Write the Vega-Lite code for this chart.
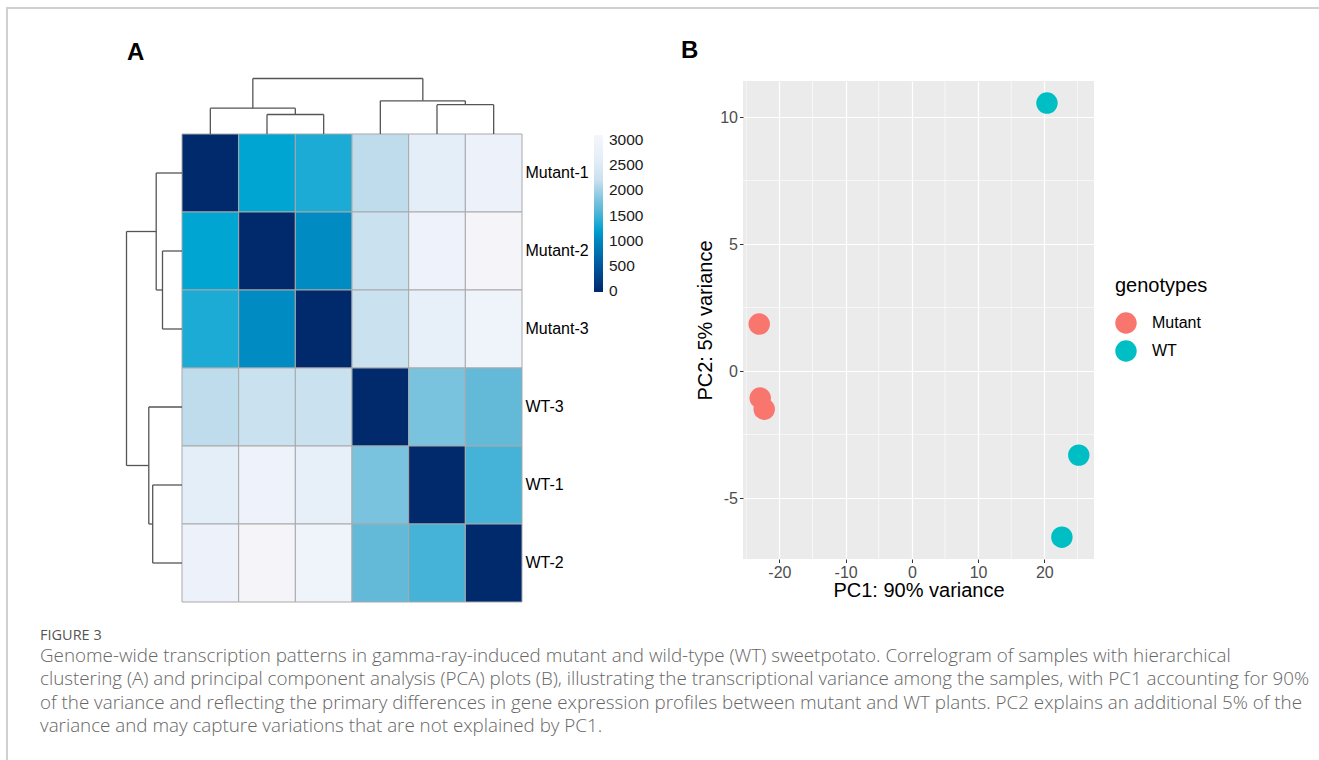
{
  "$schema": "https://vega.github.io/schema/vega-lite/v6.json",
  "padding": {"left": 6, "top": 7, "right": 0, "bottom": 0},
  "background": "white",
  "config": {"font": "Liberation Sans", "view": {"stroke": null}},
  "title": {
    "text": "FIGURE 3",
    "subtitle": [
      "Genome-wide transcription patterns in gamma-ray-induced mutant and wild-type (WT) sweetpotato. Correlogram of samples with hierarchical",
      "clustering (A) and principal component analysis (PCA) plots (B), illustrating the transcriptional variance among the samples, with PC1 accounting for 90%",
      "of the variance and reflecting the primary differences in gene expression profiles between mutant and WT plants. PC2 explains an additional 5% of the",
      "variance and may capture variations that are not explained by PC1."
    ],
    "orient": "top",
    "anchor": "start",
    "frame": "group",
    "baseline": "top",
    "offset": 0,
    "dx": 34,
    "dy": 730,
    "font": "Open Sans",
    "fontSize": 14.5,
    "fontWeight": "normal",
    "color": "#555555",
    "subtitleFont": "Open Sans",
    "subtitleFontSize": 18.8,
    "subtitleFontWeight": 300,
    "subtitleColor": "#666666",
    "subtitleLineHeight": 23.5,
    "subtitlePadding": 3
  },
  "datasets": {
    "cells": [
      {"row": "Mutant-1", "col": "Mutant-1", "dist": 0},
      {"row": "Mutant-1", "col": "Mutant-2", "dist": 1250},
      {"row": "Mutant-1", "col": "Mutant-3", "dist": 1350},
      {"row": "Mutant-1", "col": "WT-3", "dist": 2150},
      {"row": "Mutant-1", "col": "WT-1", "dist": 2600},
      {"row": "Mutant-1", "col": "WT-2", "dist": 2850},
      {"row": "Mutant-2", "col": "Mutant-1", "dist": 1250},
      {"row": "Mutant-2", "col": "Mutant-2", "dist": 0},
      {"row": "Mutant-2", "col": "Mutant-3", "dist": 1050},
      {"row": "Mutant-2", "col": "WT-3", "dist": 2230},
      {"row": "Mutant-2", "col": "WT-1", "dist": 2870},
      {"row": "Mutant-2", "col": "WT-2", "dist": 3050},
      {"row": "Mutant-3", "col": "Mutant-1", "dist": 1350},
      {"row": "Mutant-3", "col": "Mutant-2", "dist": 1050},
      {"row": "Mutant-3", "col": "Mutant-3", "dist": 0},
      {"row": "Mutant-3", "col": "WT-3", "dist": 2230},
      {"row": "Mutant-3", "col": "WT-1", "dist": 2700},
      {"row": "Mutant-3", "col": "WT-2", "dist": 2900},
      {"row": "WT-3", "col": "Mutant-1", "dist": 2150},
      {"row": "WT-3", "col": "Mutant-2", "dist": 2230},
      {"row": "WT-3", "col": "Mutant-3", "dist": 2230},
      {"row": "WT-3", "col": "WT-3", "dist": 0},
      {"row": "WT-3", "col": "WT-1", "dist": 1800},
      {"row": "WT-3", "col": "WT-2", "dist": 1650},
      {"row": "WT-1", "col": "Mutant-1", "dist": 2600},
      {"row": "WT-1", "col": "Mutant-2", "dist": 2870},
      {"row": "WT-1", "col": "Mutant-3", "dist": 2700},
      {"row": "WT-1", "col": "WT-3", "dist": 1800},
      {"row": "WT-1", "col": "WT-1", "dist": 0},
      {"row": "WT-1", "col": "WT-2", "dist": 1500},
      {"row": "WT-2", "col": "Mutant-1", "dist": 2850},
      {"row": "WT-2", "col": "Mutant-2", "dist": 3050},
      {"row": "WT-2", "col": "Mutant-3", "dist": 2900},
      {"row": "WT-2", "col": "WT-3", "dist": 1650},
      {"row": "WT-2", "col": "WT-1", "dist": 1500},
      {"row": "WT-2", "col": "WT-2", "dist": 0}
    ],
    "dendro": [
      {"p1": 2, "p2": 2, "h1": 0, "h2": 19.5},
      {"p1": 3, "p2": 3, "h1": 0, "h2": 19.5},
      {"p1": 2, "p2": 3, "h1": 19.5, "h2": 19.5},
      {"p1": 1, "p2": 1, "h1": 0, "h2": 25.8},
      {"p1": 2.5, "p2": 2.5, "h1": 19.5, "h2": 25.8},
      {"p1": 1, "p2": 2.5, "h1": 25.8, "h2": 25.8},
      {"p1": 5, "p2": 5, "h1": 0, "h2": 29.3},
      {"p1": 6, "p2": 6, "h1": 0, "h2": 29.3},
      {"p1": 5, "p2": 6, "h1": 29.3, "h2": 29.3},
      {"p1": 4, "p2": 4, "h1": 0, "h2": 33.2},
      {"p1": 5.5, "p2": 5.5, "h1": 29.3, "h2": 33.2},
      {"p1": 4, "p2": 5.5, "h1": 33.2, "h2": 33.2},
      {"p1": 1.75, "p2": 1.75, "h1": 25.8, "h2": 55.5},
      {"p1": 4.75, "p2": 4.75, "h1": 33.2, "h2": 55.5},
      {"p1": 1.75, "p2": 4.75, "h1": 55.5, "h2": 55.5}
    ],
    "pca": [
      {"sample": "Mutant-1", "genotypes": "Mutant", "PC1": -23.05, "PC2": 1.85},
      {"sample": "Mutant-2", "genotypes": "Mutant", "PC1": -22.9, "PC2": -1.06},
      {"sample": "Mutant-3", "genotypes": "Mutant", "PC1": -22.3, "PC2": -1.5},
      {"sample": "WT-1", "genotypes": "WT", "PC1": 20.4, "PC2": 10.55},
      {"sample": "WT-2", "genotypes": "WT", "PC1": 25.2, "PC2": -3.31},
      {"sample": "WT-3", "genotypes": "WT", "PC1": 22.65, "PC2": -6.54}
    ],
    "minorX": [{"v": -25}, {"v": -15}, {"v": -5}, {"v": 5}, {"v": 15}, {"v": 25}],
    "minorY": [{"v": -2.5}, {"v": 2.5}, {"v": 7.5}]
  },
  "spacing": 0,
  "bounds": "flush",
  "vconcat": [
    {
      "width": 1313, "height": 2,
      "data": {"values": []},
      "mark": "point",
      "view": {"fill": "#d0d0d0", "stroke": null}
    },
    {
      "spacing": 102,
      "bounds": "flush",
      "hconcat": [
        {
          "width": 2, "height": 751,
          "data": {"values": []},
          "mark": "point",
          "view": {"fill": "#d0d0d0", "stroke": null}
        },
        {
          "spacing": 221,
          "bounds": "flush",
          "resolve": {"scale": {"color": "independent"}},
          "hconcat": [
            {
              "width": 412, "height": 593,
              "title": {"text": "A", "anchor": "start", "orient": "top", "frame": "group", "fontSize": 24, "fontWeight": "bold", "color": "#000000", "baseline": "alphabetic", "offset": 0, "dx": 17, "dy": 75},
              "resolve": {"scale": {"x": "independent", "y": "independent"}},
              "layer": [
                {
                  "data": {"name": "cells"},
                  "mark": {"type": "rect", "stroke": "#a9a9a9", "strokeWidth": 1},
                  "encoding": {
                    "x": {"field": "col", "type": "nominal", "sort": ["Mutant-1", "Mutant-2", "Mutant-3", "WT-3", "WT-1", "WT-2"], "scale": {"paddingInner": 0, "paddingOuter": 0.6353, "align": 1}, "axis": null},
                    "y": {"field": "row", "type": "nominal", "sort": ["Mutant-1", "Mutant-2", "Mutant-3", "WT-3", "WT-1", "WT-2"], "scale": {"paddingInner": 0, "paddingOuter": 0.8013, "align": 1}, "axis": {"orient": "right", "title": null, "ticks": false, "domain": false, "labelFontSize": 16, "labelColor": "#000000", "labelPadding": 3}},
                    "color": {
                      "field": "dist", "type": "quantitative",
                      "scale": {
                        "domain": [-15, 500, 1000, 1250, 1500, 1650, 1800, 2000, 2200, 2600, 2850, 3100],
                        "range": ["#00296b", "#00579e", "#0086bf", "#00a5d2", "#45b3d8", "#62b9d8", "#7ac3de", "#a2d0e7", "#c8e0ef", "#e3eef8", "#edf2fa", "#f6f5f9"],
                        "interpolate": "rgb"
                      },
                      "legend": {"orient": "none", "legendX": 484, "legendY": 126, "title": null, "direction": "vertical", "gradientLength": 157, "gradientThickness": 9, "gradientStrokeWidth": 0, "values": [0, 500, 1000, 1500, 2000, 2500, 3000], "format": "d", "labelFontSize": 15.5, "labelColor": "#1a1a1a", "labelOffset": 6, "labelOverlap": false, "padding": 0}
                    }
                  }
                },
                {
                  "data": {"name": "dendro"},
                  "mark": {"type": "rule", "color": "#555555", "strokeWidth": 1.3},
                  "encoding": {
                    "x": {"field": "p1", "type": "quantitative", "scale": {"domain": [-0.7706, 6.5], "nice": false, "zero": false}, "axis": null},
                    "x2": {"field": "p2"},
                    "y": {"field": "h1", "type": "quantitative", "scale": {"domain": [-468, 125], "nice": false, "zero": false}, "axis": null},
                    "y2": {"field": "h2"}
                  }
                },
                {
                  "data": {"name": "dendro"},
                  "mark": {"type": "rule", "color": "#555555", "strokeWidth": 1.3},
                  "encoding": {
                    "x": {"field": "h1", "type": "quantitative", "scale": {"domain": [-340, 72], "reverse": true, "nice": false, "zero": false}, "axis": null},
                    "x2": {"field": "h2"},
                    "y": {"field": "p1", "type": "quantitative", "scale": {"domain": [-1.1026, 6.5], "reverse": true, "nice": false, "zero": false}, "axis": null},
                    "y2": {"field": "p2"}
                  }
                }
              ]
            },
            {
              "spacing": 0,
              "bounds": "flush",
              "vconcat": [
                {
                  "width": 351, "height": 72,
                  "data": {"values": []},
                  "mark": "point"
                },
                {
                  "width": 351, "height": 478,
                  "view": {"fill": "#ebebeb", "stroke": null},
                  "title": {"text": "B", "anchor": "start", "orient": "top", "frame": "group", "fontSize": 24, "fontWeight": "bold", "color": "#000000", "baseline": "alphabetic", "offset": 0, "dy": 1, "dx": -62},
                  "layer": [
                    {
                      "data": {"name": "minorX"},
                      "mark": {"type": "rule", "color": "#ffffff", "strokeWidth": 0.6},
                      "encoding": {
                        "x": {"field": "v", "type": "quantitative", "scale": {"domain": [-25.5, 27.5], "nice": false, "zero": false},
                          "axis": {"values": [-20, -10, 0, 10, 20], "labelExpr": "'' + datum.value", "title": "PC1: 90% variance", "titleFontSize": 20, "titleFontWeight": "normal", "titleColor": "#000000", "labelFontSize": 16, "labelColor": "#4d4d4d", "tickColor": "#333333", "tickSize": 3.5, "labelPadding": 2, "domain": false, "grid": true, "gridColor": "#ffffff", "gridWidth": 1.2, "titlePadding": 0, "labelFlush": false}}
                      }
                    },
                    {
                      "data": {"name": "minorY"},
                      "mark": {"type": "rule", "color": "#ffffff", "strokeWidth": 0.6},
                      "encoding": {
                        "y": {"field": "v", "type": "quantitative", "scale": {"domain": [-7.4, 11.42], "nice": false, "zero": false},
                          "axis": {"values": [-5, 0, 5, 10], "labelExpr": "'' + datum.value", "title": "PC2: 5% variance", "titleFontSize": 20, "titleFontWeight": "normal", "titleColor": "#000000", "labelFontSize": 16, "labelColor": "#4d4d4d", "tickColor": "#333333", "tickSize": 3.5, "labelPadding": 2, "domain": false, "grid": true, "gridColor": "#ffffff", "gridWidth": 1.2, "titlePadding": 4, "labelFlush": false}}
                      }
                    },
                    {
                      "data": {"name": "pca"},
                      "mark": {"type": "circle", "size": 460, "opacity": 1},
                      "encoding": {
                        "x": {"field": "PC1", "type": "quantitative", "scale": {"domain": [-25.5, 27.5], "nice": false, "zero": false},
                          "axis": {"values": [-20, -10, 0, 10, 20], "labelExpr": "'' + datum.value", "title": "PC1: 90% variance", "titleFontSize": 20, "titleFontWeight": "normal", "titleColor": "#000000", "labelFontSize": 16, "labelColor": "#4d4d4d", "tickColor": "#333333", "tickSize": 3.5, "labelPadding": 2, "domain": false, "grid": true, "gridColor": "#ffffff", "gridWidth": 1.2, "titlePadding": 0, "labelFlush": false}},
                        "y": {"field": "PC2", "type": "quantitative", "scale": {"domain": [-7.4, 11.42], "nice": false, "zero": false},
                          "axis": {"values": [-5, 0, 5, 10], "labelExpr": "'' + datum.value", "title": "PC2: 5% variance", "titleFontSize": 20, "titleFontWeight": "normal", "titleColor": "#000000", "labelFontSize": 16, "labelColor": "#4d4d4d", "tickColor": "#333333", "tickSize": 3.5, "labelPadding": 2, "domain": false, "grid": true, "gridColor": "#ffffff", "gridWidth": 1.2, "titlePadding": 4, "labelFlush": false}},
                        "color": {"field": "genotypes", "type": "nominal", "scale": {"domain": ["Mutant", "WT"], "range": ["#F8766D", "#00BFC4"]},
                          "legend": {"orient": "none", "legendX": 372, "legendY": 267, "title": "genotypes", "titleFontSize": 20, "titleFontWeight": "normal", "titleColor": "#000000", "titlePadding": 16, "labelFontSize": 16, "labelColor": "#000000", "labelOffset": 15, "symbolType": "circle", "symbolSize": 460, "symbolOpacity": 1, "symbolStrokeWidth": 0, "rowPadding": 6, "padding": 0}}
                      }
                    }
                  ]
                }
              ]
            }
          ]
        }
      ]
    }
  ]
}
